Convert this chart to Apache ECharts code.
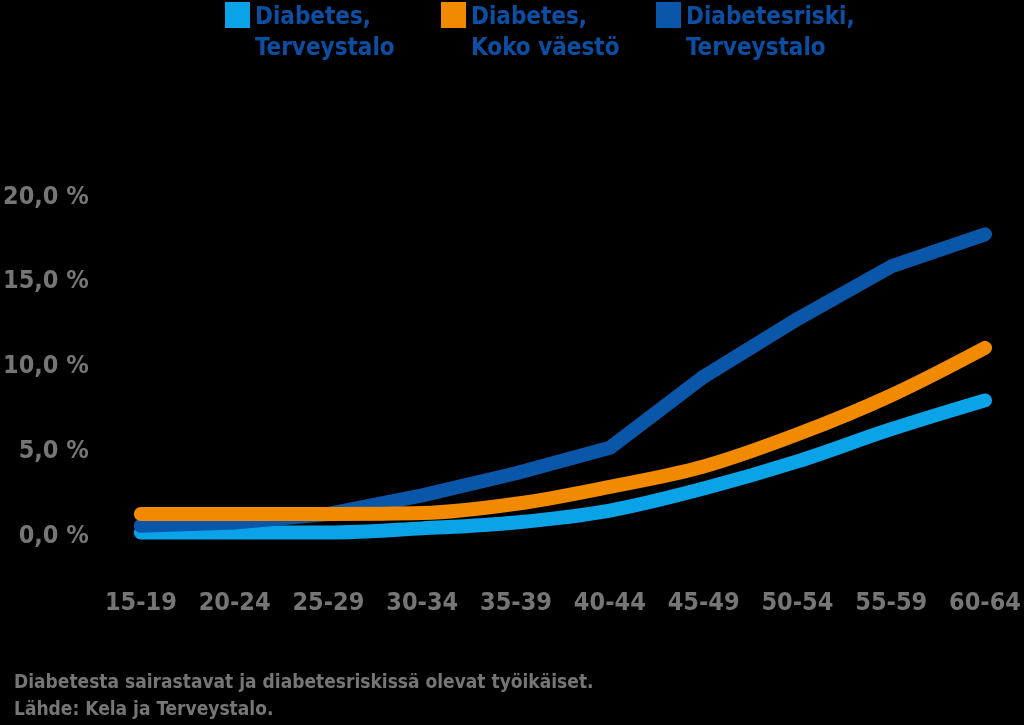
<!DOCTYPE html>
<html>
<head>
<meta charset="utf-8">
<script src="https://cdn.jsdelivr.net/npm/echarts@6/dist/echarts.min.js"></script>
<style>
  html, body { margin: 0; padding: 0; background: #000; }
  #chart { width: 1024px; height: 725px; }
</style>
</head>
<body>
<div id="chart"></div>
<script>
// age groups on the x axis
const ageGroups = ["15-19", "20-24", "25-29", "30-34", "35-39", "40-44", "45-49", "50-54", "55-59", "60-64"];
const yTicks = [0, 5, 10, 15, 20];

// shares in percent
const diabetesTerveystalo = [0.2, 0.2, 0.2, 0.45, 0.8, 1.5, 2.8, 4.4, 6.3, 8.0];
const diabetesKokoVaesto = [1.3, 1.3, 1.3, 1.35, 1.9, 2.9, 4.1, 6.0, 8.3, 11.1];
const riskiTerveystalo = [0.6, 0.8, 1.3, 2.4, 3.7, 5.2, 9.4, 12.8, 15.9, 17.8];

const seriesNames = ["Diabetes,\nTerveystalo", "Diabetes,\nKoko väestö", "Diabetesriski,\nTerveystalo"];
const colors = ["#0aa3e8", "#f28a00", "#0a56a8"];
const legendLefts = [220, 436, 651];

const FONT = "'Liberation Sans Narrow', 'DejaVu Sans Condensed', sans-serif";
const grey = "#767676";

// square on top of a tall, empty box, so it lines up with the first text line
const legendIcon = "path://M0,0h25v26h-25zM24.95,61.95h0.05v0.05h-0.05z";

const chart = echarts.init(document.getElementById("chart"));

function lineSeries(name, data, color, smooth, z) {
    return {
        name: name,
        type: "line",
        data: data,
        smooth: smooth,
        symbol: "none",
        z: z,
        lineStyle: { width: 14, color: color, cap: "round", join: "round" },
        itemStyle: { color: color },
    };
}

chart.setOption({
    backgroundColor: "#000",
    animation: false,
    title: {
        left: 9,
        bottom: -4,
        text: "Diabetesta sairastavat ja diabetesriskissä olevat työikäiset.\nLähde: Kela ja Terveystalo.",
        textStyle: {
            color: grey,
            fontFamily: FONT,
            fontWeight: "bold",
            fontSize: 19,
            lineHeight: 27,
        },
    },
    legend: seriesNames.map((name, i) => ({
        top: -3,
        left: legendLefts[i],
        itemWidth: 25,
        itemHeight: 62,
        icon: legendIcon,
        data: [name],
        textStyle: {
            color: "#0b4ea2",
            fontFamily: FONT,
            fontWeight: "bold",
            fontSize: 24,
            lineHeight: 31,
        },
    })),
    grid: { left: 140, right: 39, top: 197, bottom: 189, containLabel: false },
    xAxis: {
        type: "category",
        data: ageGroups,
        boundaryGap: false,
        axisLine: { show: false },
        axisTick: { show: false },
        axisLabel: {
            color: grey,
            fontFamily: FONT,
            fontWeight: "bold",
            fontSize: 25,
            margin: 55,
        },
    },
    yAxis: {
        type: "value",
        min: yTicks[0],
        max: yTicks[yTicks.length - 1],
        interval: 5,
        splitLine: { show: false },
        axisLine: { show: false },
        axisTick: { show: false },
        axisLabel: {
            color: grey,
            fontFamily: FONT,
            fontWeight: "bold",
            fontSize: 25,
            margin: 52,
            formatter: (v) => v.toFixed(1).replace(".", ",") + " %",
        },
    },
    series: [
        lineSeries(seriesNames[0], diabetesTerveystalo, colors[0], 0.35, 2),
        lineSeries(seriesNames[1], diabetesKokoVaesto, colors[1], 0.35, 4),
        lineSeries(seriesNames[2], riskiTerveystalo, colors[2], false, 3),
    ],
});
</script>
</body>
</html>
